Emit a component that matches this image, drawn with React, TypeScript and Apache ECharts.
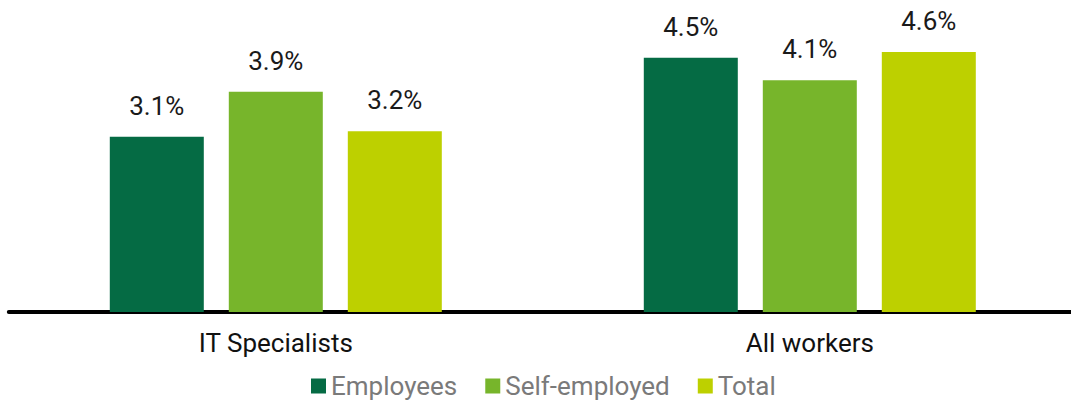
import React, { useEffect, useRef } from "react";
import * as echarts from "echarts";

const categories = ["IT Specialists", "All workers"];
const employees = [3.1, 4.5];
const selfEmployed = [3.9, 4.1];
const total = [3.2, 4.6];

const FONT = "Roboto, 'DejaVu Sans', sans-serif";

export default function App() {
  const ref = useRef<HTMLDivElement>(null);
  useEffect(() => {
    if (!ref.current) return;
    const chart = echarts.init(ref.current, undefined, { renderer: "svg" });
    const label = {
      show: true,
      position: "top" as const,
      distance: 18,
      color: "#1a1a1a",
      fontSize: 26,
      fontFamily: FONT,
      formatter: (p: any) => p.value.toFixed(1) + "%",
    };
    const mk = (name: string, data: number[], color: string) => ({
      name,
      type: "bar" as const,
      data,
      barWidth: 94,
      barGap: "26.6%",
      itemStyle: { color },
      label,
    });
    chart.setOption({
      animation: false,
      grid: { left: 8.8, right: 8.2, top: 29.5, height: 282.5 },
      legend: {
        top: 368,
        left: 306,
        itemWidth: 15,
        itemHeight: 15,
        itemGap: 28,
        icon: "rect",
        textStyle: { color: "#7a7a7a", fontSize: 26, fontFamily: FONT },
        data: [
          { name: "Employees", textStyle: { width: 129 } },
          { name: "Self-employed", textStyle: { width: 176 } },
          { name: "Total" },
        ],
      },
      xAxis: {
        type: "category",
        data: categories,
        axisLine: { lineStyle: { color: "#000", width: 4 } },
        axisTick: { show: false },
        axisLabel: { color: "#111", fontSize: 26, fontFamily: FONT, margin: 18 },
      },
      yAxis: {
        type: "value",
        min: 0,
        max: 5,
        show: false,
        splitLine: { show: false },
      },
      series: [
        mk("Employees", employees, "#056b44"),
        mk("Self-employed", selfEmployed, "#77b52b"),
        mk("Total", total, "#bdd000"),
      ],
    });
    return () => chart.dispose();
  }, []);
  return (
    <div
      style={{ position: "fixed", left: 0, top: 0, width: 1071, height: 401, overflow: "hidden", background: "#fff" }}
    >
      <div ref={ref} style={{ width: 1085, height: 401 }} />
    </div>
  );
}
